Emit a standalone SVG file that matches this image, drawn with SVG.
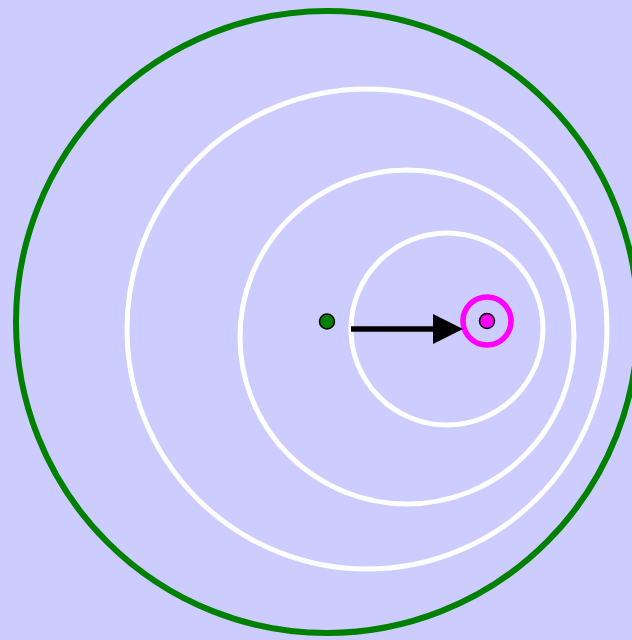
<svg xmlns="http://www.w3.org/2000/svg" width="632" height="640" viewBox="0 0 632 640">
  <style>
    .ring { fill: none; stroke: #ffffff; stroke-width: 5; }
    .dot { stroke: #000000; stroke-width: 1.5; }
  </style>
  <defs>
    <marker id="arrow" markerUnits="userSpaceOnUse" markerWidth="32" markerHeight="32" refX="1" refY="15" orient="auto">
      <path d="M1,0 L31,15 L1,30 Z" fill="#000000"/>
    </marker>
  </defs>
  <rect x="0" y="0" width="632" height="640" fill="#ccccff"/>
  <g id="outer">
    <circle cx="327" cy="322" r="311" fill="none" stroke="#008000" stroke-width="6"/>
  </g>
  <g id="ring1"><circle class="ring" cx="367" cy="329" r="240"/></g>
  <g id="ring2"><circle class="ring" cx="407" cy="337" r="167"/></g>
  <g id="ring3"><circle class="ring" cx="447" cy="329" r="96"/></g>
  <g id="start"><circle class="dot" cx="327" cy="321.5" r="7.5" fill="#008000"/></g>
  <g id="target">
    <circle cx="487" cy="321" r="24" fill="none" stroke="#ff00ff" stroke-width="5.5"/>
    <circle class="dot" cx="487" cy="321" r="7.5" fill="#ff00ff"/>
  </g>
  <g id="connectors">
    <line x1="351" y1="329" x2="433" y2="329" stroke="#000000" stroke-width="5.5" marker-end="url(#arrow)"/>
  </g>
</svg>
